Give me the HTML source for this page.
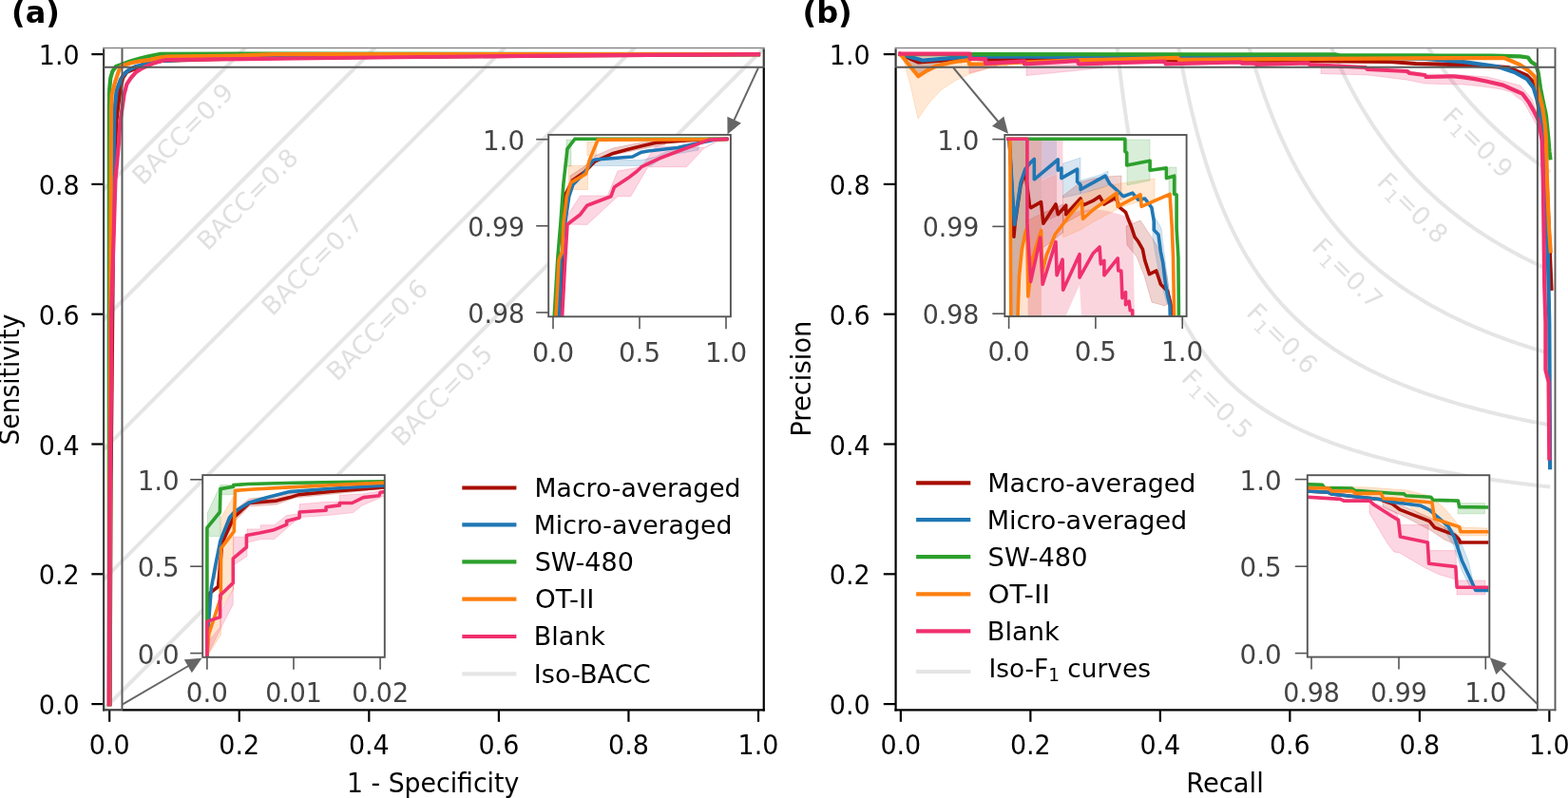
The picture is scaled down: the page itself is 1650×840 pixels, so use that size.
<!DOCTYPE html>
<html><head><meta charset="utf-8"><title>ROC and PR curves</title>
<style>html,body{margin:0;padding:0;background:#fff;overflow:hidden}svg{display:block}text{font-family:"DejaVu Sans","Liberation Sans",sans-serif}</style></head>
<body>
<svg width="1650" height="840" viewBox="0 0 1650 840" font-family="DejaVu Sans, Liberation Sans, sans-serif">
<defs><clipPath id="ca"><rect x="109.14" y="50.6" width="694.61" height="696.7"/></clipPath><clipPath id="cb"><rect x="942.57" y="50.7" width="693.83" height="696.6"/></clipPath><clipPath id="ia1"><rect x="577.2" y="141.9" width="191.7" height="191.4"/></clipPath><clipPath id="ia2"><rect x="213.2" y="500.1" width="191.6" height="191.7"/></clipPath><clipPath id="ib1"><rect x="1057.3" y="142" width="191.3" height="191"/></clipPath><clipPath id="ib2"><rect x="1375.8" y="500.2" width="191.5" height="191.4"/></clipPath></defs>
<rect width="1650" height="840" fill="#fff"/>
<line x1="81.06" y1="227.6" x2="832.14" y2="-524.8" stroke="#e5e5e5" stroke-width="4" clip-path="url(#ca)"/>
<line x1="81.06" y1="364.4" x2="832.14" y2="-388" stroke="#e5e5e5" stroke-width="4" clip-path="url(#ca)"/>
<line x1="81.06" y1="501.2" x2="832.14" y2="-251.2" stroke="#e5e5e5" stroke-width="4" clip-path="url(#ca)"/>
<line x1="81.06" y1="638" x2="832.14" y2="-114.4" stroke="#e5e5e5" stroke-width="4" clip-path="url(#ca)"/>
<line x1="81.06" y1="774.8" x2="832.14" y2="22.4" stroke="#e5e5e5" stroke-width="4" clip-path="url(#ca)"/>
<text transform="translate(150.2 195.9) rotate(-45)" font-size="26.5" fill="#e0e0e0">BACC=0.9</text>
<text transform="translate(218.4 264.7) rotate(-45)" font-size="26.5" fill="#e0e0e0">BACC=0.8</text>
<text transform="translate(286.6 333.5) rotate(-45)" font-size="26.5" fill="#e0e0e0">BACC=0.7</text>
<text transform="translate(354.8 402.3) rotate(-45)" font-size="26.5" fill="#e0e0e0">BACC=0.6</text>
<text transform="translate(423 471.1) rotate(-45)" font-size="26.5" fill="#e0e0e0">BACC=0.5</text>
<polyline points="115.6,741.1 116.6,500 117.6,400 119,250 121,160 122.3,128 123.8,115 126.3,95 129.1,82.1 133.4,75.7 140.6,72.9 150,68 170,64 250,61.5 400,60 600,58.5 798,57.1" fill="none" stroke="#a80d00" stroke-width="4.2" stroke-linejoin="round" stroke-linecap="square" clip-path="url(#ca)"/>
<polyline points="115.5,741.1 116,500 116.5,400 118,250 120.2,130 120.6,115 122.7,95 127,83.6 130.6,77.9 135.6,73.6 142,70.4 147.7,68.9 170,64 250,60 350,59.5 500,58.5 700,57.5 798,57.1" fill="none" stroke="#1f77b4" stroke-width="4.2" stroke-linejoin="round" stroke-linecap="square" clip-path="url(#ca)"/>
<polyline points="114.8,741.1 114.8,300 114.9,115 115.2,94.3 116.3,82.1 118.4,75 122,70 127.7,67.9 137,64.6 146.3,61.8 156.3,59.3 169.1,56.8 300,56.6 798,57.1" fill="none" stroke="#2ca02c" stroke-width="4.2" stroke-linejoin="round" stroke-linecap="square" clip-path="url(#ca)"/>
<polyline points="115.2,741.1 115.6,500 116,400 116.5,230 117,130 117,115 117.7,99.3 121.3,85.7 125.6,72.9 128.4,69.3 137,66.4 147.7,64.3 158.4,62.9 169.1,60.4 176.4,59.5 250,58.5 290,57.2 798,57.1" fill="none" stroke="#ff7f0e" stroke-width="4.2" stroke-linejoin="round" stroke-linecap="square" clip-path="url(#ca)"/>
<polyline points="114.6,741.1 115.5,530 117.1,400 117.1,330 120.2,230 121.4,190 125,150 126.2,130 128.4,115 130.6,99.3 133.4,88.6 137.7,82.1 143.4,75.7 147.7,72.9 152,70.7 162,66.4 169.1,64.3 175,63 350,61 600,58.3 798,57.1" fill="none" stroke="#f0306e" stroke-width="4.2" stroke-linejoin="round" stroke-linecap="square" clip-path="url(#ca)"/>
<polyline points="1174.17,36.08 1177.03,62.57 1179.89,86.56 1182.74,108.38 1185.6,128.31 1188.46,146.59 1191.32,163.42 1194.17,178.96 1197.03,193.35 1199.89,206.72 1202.75,219.18 1205.6,230.8 1208.46,241.68 1211.32,251.89 1214.18,261.47 1217.03,270.5 1219.89,279.01 1222.75,287.05 1225.61,294.66 1228.46,301.87 1231.32,308.71 1234.18,315.21 1237.04,321.39 1239.89,327.28 1242.75,332.9 1245.61,338.26 1248.47,343.39 1251.32,348.29 1254.18,352.99 1257.04,357.49 1259.9,361.8 1262.75,365.95 1265.61,369.93 1268.47,373.76 1271.32,377.44 1274.18,380.99 1277.04,384.41 1279.9,387.71 1282.75,390.9 1285.61,393.97 1288.47,396.94 1291.33,399.81 1294.18,402.59 1297.04,405.28 1299.9,407.88 1302.76,410.4 1305.61,412.84 1308.47,415.21 1311.33,417.51 1314.19,419.75 1317.04,421.91 1319.9,424.02 1322.76,426.06 1325.62,428.05 1328.47,429.99 1331.33,431.87 1334.19,433.71 1337.05,435.49 1339.9,437.23 1342.76,438.92 1345.62,440.57 1348.48,442.18 1351.33,443.75 1354.19,445.29 1357.05,446.78 1359.9,448.24 1362.76,449.67 1365.62,451.06 1368.48,452.42 1371.33,453.75 1374.19,455.05 1377.05,456.32 1379.91,457.56 1382.76,458.78 1385.62,459.97 1388.48,461.13 1391.34,462.27 1394.19,463.39 1397.05,464.48 1399.91,465.55 1402.77,466.6 1405.62,467.63 1408.48,468.64 1411.34,469.63 1414.2,470.6 1417.05,471.55 1419.91,472.48 1422.77,473.4 1425.63,474.29 1428.48,475.18 1431.34,476.04 1434.2,476.89 1437.06,477.72 1439.91,478.54 1442.77,479.35 1445.63,480.14 1448.49,480.92 1451.34,481.68 1454.2,482.43 1457.06,483.17 1459.91,483.89 1462.77,484.61 1465.63,485.31 1468.49,486 1471.34,486.68 1474.2,487.35 1477.06,488 1479.92,488.65 1482.77,489.29 1485.63,489.91 1488.49,490.53 1491.35,491.14 1494.2,491.74 1497.06,492.33 1499.92,492.91 1502.78,493.48 1505.63,494.04 1508.49,494.6 1511.35,495.14 1514.21,495.68 1517.06,496.21 1519.92,496.74 1522.78,497.25 1525.64,497.76 1528.49,498.26 1531.35,498.76 1534.21,499.25 1537.07,499.73 1539.92,500.2 1542.78,500.67 1545.64,501.13 1548.49,501.59 1551.35,502.04 1554.21,502.48 1557.07,502.92 1559.92,503.36 1562.78,503.78 1565.64,504.2 1568.5,504.62 1571.35,505.03 1574.21,505.44 1577.07,505.84 1579.93,506.23 1582.78,506.62 1585.64,507.01 1588.5,507.39 1591.36,507.77 1594.21,508.14 1597.07,508.51 1599.93,508.87 1602.79,509.23 1605.64,509.58 1608.5,509.94 1611.36,510.28 1614.22,510.62 1617.07,510.96 1619.93,511.3 1622.79,511.63 1625.65,511.96 1628.5,512.28 1631.36,512.6" fill="none" stroke="#e5e5e5" stroke-width="4" stroke-linejoin="round" stroke-linecap="butt" clip-path="url(#cb)"/>
<polyline points="1237.75,36.08 1240.21,50.26 1242.67,63.66 1245.13,76.34 1247.59,88.36 1250.05,99.76 1252.51,110.6 1254.97,120.91 1257.43,130.73 1259.89,140.09 1262.35,149.04 1264.81,157.58 1267.27,165.76 1269.73,173.59 1272.19,181.1 1274.65,188.3 1277.11,195.21 1279.57,201.86 1282.03,208.25 1284.49,214.39 1286.95,220.32 1289.41,226.02 1291.87,231.53 1294.33,236.84 1296.79,241.97 1299.25,246.93 1301.71,251.72 1304.17,256.35 1306.63,260.84 1309.09,265.18 1311.55,269.39 1314.02,273.47 1316.48,277.43 1318.94,281.27 1321.4,284.99 1323.86,288.61 1326.32,292.13 1328.78,295.54 1331.24,298.86 1333.7,302.1 1336.16,305.24 1338.62,308.3 1341.08,311.28 1343.54,314.18 1346,317.01 1348.46,319.77 1350.92,322.46 1353.38,325.08 1355.84,327.64 1358.3,330.14 1360.76,332.57 1363.22,334.95 1365.68,337.28 1368.14,339.55 1370.6,341.77 1373.06,343.94 1375.52,346.06 1377.98,348.14 1380.44,350.17 1382.9,352.16 1385.36,354.1 1387.82,356.01 1390.28,357.87 1392.74,359.7 1395.2,361.49 1397.66,363.24 1400.12,364.96 1402.58,366.64 1405.04,368.29 1407.5,369.91 1409.96,371.5 1412.42,373.06 1414.88,374.59 1417.34,376.09 1419.8,377.56 1422.26,379.01 1424.72,380.43 1427.18,381.82 1429.64,383.19 1432.1,384.53 1434.56,385.85 1437.02,387.15 1439.48,388.43 1441.94,389.68 1444.4,390.91 1446.86,392.13 1449.32,393.32 1451.78,394.49 1454.24,395.64 1456.7,396.78 1459.16,397.89 1461.62,398.99 1464.08,400.07 1466.54,401.14 1469,402.18 1471.46,403.21 1473.92,404.23 1476.38,405.23 1478.84,406.21 1481.3,407.18 1483.76,408.14 1486.22,409.08 1488.68,410.01 1491.14,410.92 1493.6,411.82 1496.06,412.71 1498.52,413.59 1500.98,414.45 1503.44,415.3 1505.9,416.14 1508.36,416.96 1510.82,417.78 1513.28,418.58 1515.74,419.38 1518.2,420.16 1520.66,420.93 1523.12,421.7 1525.58,422.45 1528.04,423.19 1530.5,423.92 1532.96,424.65 1535.42,425.36 1537.88,426.06 1540.34,426.76 1542.8,427.45 1545.26,428.12 1547.72,428.79 1550.18,429.45 1552.64,430.11 1555.1,430.75 1557.56,431.39 1560.02,432.02 1562.48,432.64 1564.94,433.26 1567.4,433.86 1569.86,434.46 1572.32,435.06 1574.78,435.64 1577.24,436.22 1579.7,436.79 1582.16,437.36 1584.62,437.92 1587.08,438.47 1589.54,439.02 1592,439.56 1594.46,440.1 1596.92,440.62 1599.38,441.15 1601.84,441.67 1604.3,442.18 1606.76,442.68 1609.22,443.18 1611.68,443.68 1614.14,444.17 1616.6,444.65 1619.06,445.13 1621.52,445.61 1623.98,446.08 1626.44,446.54 1628.9,447 1631.36,447.46" fill="none" stroke="#e5e5e5" stroke-width="4" stroke-linejoin="round" stroke-linecap="butt" clip-path="url(#cb)"/>
<polyline points="1310.69,36.08 1312.69,43.54 1314.69,50.77 1316.7,57.77 1318.7,64.55 1320.71,71.13 1322.71,77.52 1324.71,83.72 1326.72,89.74 1328.72,95.59 1330.73,101.27 1332.73,106.8 1334.74,112.18 1336.74,117.41 1338.74,122.5 1340.75,127.46 1342.75,132.3 1344.76,137 1346.76,141.59 1348.77,146.07 1350.77,150.44 1352.77,154.7 1354.78,158.85 1356.78,162.91 1358.79,166.88 1360.79,170.75 1362.79,174.53 1364.8,178.23 1366.8,181.84 1368.81,185.38 1370.81,188.84 1372.82,192.22 1374.82,195.53 1376.82,198.77 1378.83,201.94 1380.83,205.05 1382.84,208.09 1384.84,211.07 1386.85,213.99 1388.85,216.85 1390.85,219.66 1392.86,222.41 1394.86,225.11 1396.87,227.75 1398.87,230.35 1400.88,232.89 1402.88,235.39 1404.88,237.85 1406.89,240.26 1408.89,242.62 1410.9,244.94 1412.9,247.22 1414.9,249.46 1416.91,251.67 1418.91,253.83 1420.92,255.96 1422.92,258.05 1424.93,260.1 1426.93,262.12 1428.93,264.11 1430.94,266.06 1432.94,267.98 1434.95,269.87 1436.95,271.73 1438.96,273.56 1440.96,275.37 1442.96,277.14 1444.97,278.89 1446.97,280.6 1448.98,282.3 1450.98,283.96 1452.98,285.6 1454.99,287.22 1456.99,288.81 1459,290.38 1461,291.93 1463.01,293.45 1465.01,294.95 1467.01,296.43 1469.02,297.89 1471.02,299.33 1473.03,300.75 1475.03,302.15 1477.04,303.53 1479.04,304.89 1481.04,306.23 1483.05,307.55 1485.05,308.86 1487.06,310.15 1489.06,311.42 1491.06,312.67 1493.07,313.91 1495.07,315.13 1497.08,316.33 1499.08,317.52 1501.09,318.7 1503.09,319.86 1505.09,321 1507.1,322.14 1509.1,323.25 1511.11,324.36 1513.11,325.44 1515.12,326.52 1517.12,327.58 1519.12,328.63 1521.13,329.67 1523.13,330.7 1525.14,331.71 1527.14,332.71 1529.14,333.7 1531.15,334.68 1533.15,335.64 1535.16,336.6 1537.16,337.54 1539.17,338.47 1541.17,339.4 1543.17,340.31 1545.18,341.21 1547.18,342.1 1549.19,342.99 1551.19,343.86 1553.2,344.72 1555.2,345.58 1557.2,346.42 1559.21,347.25 1561.21,348.08 1563.22,348.9 1565.22,349.71 1567.23,350.51 1569.23,351.3 1571.23,352.08 1573.24,352.86 1575.24,353.62 1577.25,354.38 1579.25,355.14 1581.25,355.88 1583.26,356.62 1585.26,357.34 1587.27,358.07 1589.27,358.78 1591.28,359.49 1593.28,360.19 1595.28,360.88 1597.29,361.57 1599.29,362.25 1601.3,362.92 1603.3,363.59 1605.31,364.25 1607.31,364.9 1609.31,365.55 1611.32,366.19 1613.32,366.83 1615.33,367.46 1617.33,368.08 1619.33,368.7 1621.34,369.31 1623.34,369.92 1625.35,370.52 1627.35,371.12 1629.36,371.71 1631.36,372.29" fill="none" stroke="#e5e5e5" stroke-width="4" stroke-linejoin="round" stroke-linecap="butt" clip-path="url(#cb)"/>
<polyline points="1395.19,36.08 1396.67,39.72 1398.15,43.3 1399.62,46.81 1401.1,50.27 1402.57,53.68 1404.05,57.03 1405.53,60.32 1407,63.56 1408.48,66.76 1409.95,69.9 1411.43,72.99 1412.91,76.03 1414.38,79.03 1415.86,81.98 1417.33,84.89 1418.81,87.75 1420.29,90.57 1421.76,93.35 1423.24,96.09 1424.71,98.79 1426.19,101.45 1427.67,104.07 1429.14,106.66 1430.62,109.2 1432.09,111.72 1433.57,114.19 1435.05,116.64 1436.52,119.05 1438,121.42 1439.47,123.77 1440.95,126.08 1442.43,128.36 1443.9,130.61 1445.38,132.83 1446.85,135.02 1448.33,137.19 1449.81,139.32 1451.28,141.43 1452.76,143.51 1454.24,145.57 1455.71,147.6 1457.19,149.6 1458.66,151.58 1460.14,153.53 1461.62,155.46 1463.09,157.37 1464.57,159.25 1466.04,161.11 1467.52,162.95 1469,164.77 1470.47,166.56 1471.95,168.33 1473.42,170.09 1474.9,171.82 1476.38,173.53 1477.85,175.22 1479.33,176.89 1480.8,178.55 1482.28,180.18 1483.76,181.8 1485.23,183.4 1486.71,184.98 1488.18,186.54 1489.66,188.09 1491.14,189.62 1492.61,191.13 1494.09,192.62 1495.56,194.1 1497.04,195.57 1498.52,197.02 1499.99,198.45 1501.47,199.87 1502.94,201.27 1504.42,202.66 1505.9,204.03 1507.37,205.39 1508.85,206.74 1510.32,208.07 1511.8,209.39 1513.28,210.69 1514.75,211.98 1516.23,213.26 1517.7,214.53 1519.18,215.78 1520.66,217.02 1522.13,218.25 1523.61,219.47 1525.09,220.67 1526.56,221.87 1528.04,223.05 1529.51,224.22 1530.99,225.38 1532.47,226.52 1533.94,227.66 1535.42,228.79 1536.89,229.91 1538.37,231.01 1539.85,232.11 1541.32,233.19 1542.8,234.27 1544.27,235.33 1545.75,236.39 1547.23,237.43 1548.7,238.47 1550.18,239.5 1551.65,240.52 1553.13,241.53 1554.61,242.53 1556.08,243.52 1557.56,244.5 1559.03,245.47 1560.51,246.44 1561.99,247.4 1563.46,248.35 1564.94,249.29 1566.41,250.22 1567.89,251.14 1569.37,252.06 1570.84,252.97 1572.32,253.87 1573.79,254.76 1575.27,255.65 1576.75,256.53 1578.22,257.4 1579.7,258.27 1581.17,259.12 1582.65,259.97 1584.13,260.82 1585.6,261.65 1587.08,262.48 1588.55,263.31 1590.03,264.12 1591.51,264.93 1592.98,265.74 1594.46,266.54 1595.93,267.33 1597.41,268.11 1598.89,268.89 1600.36,269.66 1601.84,270.43 1603.32,271.19 1604.79,271.94 1606.27,272.69 1607.74,273.44 1609.22,274.17 1610.7,274.91 1612.17,275.63 1613.65,276.35 1615.12,277.07 1616.6,277.78 1618.08,278.48 1619.55,279.18 1621.03,279.88 1622.5,280.57 1623.98,281.25 1625.46,281.93 1626.93,282.61 1628.41,283.28 1629.88,283.94 1631.36,284.6" fill="none" stroke="#e5e5e5" stroke-width="4" stroke-linejoin="round" stroke-linecap="butt" clip-path="url(#cb)"/>
<polyline points="1494.27,36.08 1495.13,37.5 1495.99,38.91 1496.84,40.31 1497.7,41.71 1498.56,43.09 1499.41,44.46 1500.27,45.82 1501.13,47.17 1501.98,48.52 1502.84,49.85 1503.7,51.17 1504.55,52.49 1505.41,53.8 1506.27,55.09 1507.12,56.38 1507.98,57.66 1508.84,58.93 1509.69,60.2 1510.55,61.45 1511.41,62.7 1512.26,63.93 1513.12,65.16 1513.98,66.38 1514.83,67.6 1515.69,68.8 1516.55,70 1517.41,71.19 1518.26,72.37 1519.12,73.54 1519.98,74.71 1520.83,75.87 1521.69,77.02 1522.55,78.16 1523.4,79.3 1524.26,80.43 1525.12,81.55 1525.97,82.66 1526.83,83.77 1527.69,84.87 1528.54,85.96 1529.4,87.05 1530.26,88.13 1531.11,89.2 1531.97,90.27 1532.83,91.33 1533.68,92.39 1534.54,93.43 1535.4,94.47 1536.25,95.51 1537.11,96.54 1537.97,97.56 1538.83,98.57 1539.68,99.58 1540.54,100.59 1541.4,101.58 1542.25,102.57 1543.11,103.56 1543.97,104.54 1544.82,105.51 1545.68,106.48 1546.54,107.44 1547.39,108.4 1548.25,109.35 1549.11,110.3 1549.96,111.24 1550.82,112.17 1551.68,113.1 1552.53,114.02 1553.39,114.94 1554.25,115.85 1555.1,116.76 1555.96,117.66 1556.82,118.56 1557.68,119.45 1558.53,120.34 1559.39,121.22 1560.25,122.1 1561.1,122.97 1561.96,123.84 1562.82,124.7 1563.67,125.56 1564.53,126.42 1565.39,127.26 1566.24,128.11 1567.1,128.95 1567.96,129.78 1568.81,130.61 1569.67,131.44 1570.53,132.26 1571.38,133.07 1572.24,133.89 1573.1,134.69 1573.95,135.5 1574.81,136.3 1575.67,137.09 1576.52,137.88 1577.38,138.67 1578.24,139.45 1579.1,140.23 1579.95,141 1580.81,141.77 1581.67,142.54 1582.52,143.3 1583.38,144.06 1584.24,144.81 1585.09,145.56 1585.95,146.31 1586.81,147.05 1587.66,147.79 1588.52,148.52 1589.38,149.25 1590.23,149.98 1591.09,150.7 1591.95,151.42 1592.8,152.14 1593.66,152.85 1594.52,153.56 1595.37,154.26 1596.23,154.96 1597.09,155.66 1597.94,156.35 1598.8,157.05 1599.66,157.73 1600.52,158.42 1601.37,159.1 1602.23,159.78 1603.09,160.45 1603.94,161.12 1604.8,161.79 1605.66,162.45 1606.51,163.11 1607.37,163.77 1608.23,164.42 1609.08,165.08 1609.94,165.72 1610.8,166.37 1611.65,167.01 1612.51,167.65 1613.37,168.28 1614.22,168.92 1615.08,169.55 1615.94,170.17 1616.79,170.8 1617.65,171.42 1618.51,172.04 1619.36,172.65 1620.22,173.26 1621.08,173.87 1621.94,174.48 1622.79,175.08 1623.65,175.68 1624.51,176.28 1625.36,176.87 1626.22,177.47 1627.08,178.06 1627.93,178.64 1628.79,179.23 1629.65,179.81 1630.5,180.39 1631.36,180.96" fill="none" stroke="#e5e5e5" stroke-width="4" stroke-linejoin="round" stroke-linecap="butt" clip-path="url(#cb)"/>
<text transform="translate(1516.4 124.2) rotate(45)" font-size="26.5" fill="#e0e0e0">F<tspan font-size="18.5" dy="4.6">1</tspan><tspan dy="-4.6">=0.9</tspan></text>
<text transform="translate(1447.8 193) rotate(45)" font-size="26.5" fill="#e0e0e0">F<tspan font-size="18.5" dy="4.6">1</tspan><tspan dy="-4.6">=0.8</tspan></text>
<text transform="translate(1379.2 261.8) rotate(45)" font-size="26.5" fill="#e0e0e0">F<tspan font-size="18.5" dy="4.6">1</tspan><tspan dy="-4.6">=0.7</tspan></text>
<text transform="translate(1310.6 330.6) rotate(45)" font-size="26.5" fill="#e0e0e0">F<tspan font-size="18.5" dy="4.6">1</tspan><tspan dy="-4.6">=0.6</tspan></text>
<text transform="translate(1242 399.4) rotate(45)" font-size="26.5" fill="#e0e0e0">F<tspan font-size="18.5" dy="4.6">1</tspan><tspan dy="-4.6">=0.5</tspan></text>
<polygon points="950,60 958,90 966,125 978,108 990,95 1005,85 1020,78 1040,72 1060,70 1060,62 1020,60 990,62 966,66 950,58" fill="#ff7f0e" fill-opacity="0.18" stroke="#ff7f0e" stroke-opacity="0.18" stroke-width="1" clip-path="url(#cb)"/>
<polygon points="1020,69 1050,69 1020,77" fill="#f0306e" fill-opacity="0.2" stroke="#f0306e" stroke-opacity="0.2" stroke-width="1" clip-path="url(#cb)"/>
<polygon points="1080,68 1160,68 1160,71.5 1080,79.5" fill="#f0306e" fill-opacity="0.2" stroke="#f0306e" stroke-opacity="0.2" stroke-width="1" clip-path="url(#cb)"/>
<polygon points="955,60 966.3,66 980,64 1000,62 1019,61 1019,63.5 1000,66 985,69.5 975,74.5 966.3,79 958,68" fill="#d8b4a4" clip-path="url(#cb)"/>
<polygon points="952,58.6 970.7,61.6 990,60 1019,58.6" fill="#e8cbbd" clip-path="url(#cb)"/>
<polygon points="1390,71.5 1440,72.5 1480,74 1500,78 1540,79 1565,81 1585,86 1600,90 1605,96 1612,104 1616,115 1620,125 1622,140 1616,130 1611,121 1606,112 1602,106 1596,102 1590,97 1580,94 1560,91 1540,89 1500,88 1480,84 1440,79 1390,77.5" fill="#f0306e" fill-opacity="0.2" stroke="#f0306e" stroke-opacity="0.2" stroke-width="1" clip-path="url(#cb)"/>
<polyline points="947.5,57.1 966.3,65.3 1020,61.5 1040,62.6 1130,62.8 1300,63.3 1410,64.3 1463,65 1490,67 1540,68.2 1587.6,71.2 1606.7,79.5 1613.8,86.7 1618,95 1621,110 1624,140 1628,200 1631,270 1632.5,303.8" fill="none" stroke="#a80d00" stroke-width="4.2" stroke-linejoin="round" stroke-linecap="square" clip-path="url(#cb)"/>
<polyline points="947.5,57.1 970.7,63.6 1020,59.5 1140,60 1330,60 1379,59.4 1500,62 1530,64.5 1540,65.2 1575.7,70 1593.6,76 1606.7,83.1 1613.8,92.6 1617.4,104.5 1619.8,116.4 1622.1,130.7 1623.3,145 1625.5,200 1628.8,266 1630.3,340 1631.1,492.1" fill="none" stroke="#1f77b4" stroke-width="4.2" stroke-linejoin="round" stroke-linecap="square" clip-path="url(#cb)"/>
<polyline points="947.5,57.1 1330,57.3 1404.7,57.3 1410,58.3 1503.3,58.3 1507.3,58.7 1570,58.7 1599.5,59.3 1607.9,60.5 1611.4,65.2 1616.2,68.2 1618.6,76 1621,92.6 1623.3,104.5 1626.9,121.2 1629.3,145 1630.5,160 1631.3,166.3" fill="none" stroke="#2ca02c" stroke-width="4.2" stroke-linejoin="round" stroke-linecap="square" clip-path="url(#cb)"/>
<polyline points="947.5,57.1 966.3,80.3 975,74.5 985,69.5 1000,66 1010,64.3 1019.5,63.2 1020,67.5 1034.5,67.4 1140,63 1160.5,62.8 1239.5,60.9 1240.7,62.8 1340,62.2 1540,61.1 1582.9,61.1 1590,64 1599.5,68.2 1609,74.8 1615,80.7 1618.6,95 1621,104.5 1623.3,114 1625.7,130.7 1626.9,145 1628,190 1630,240 1631.7,264.3" fill="none" stroke="#ff7f0e" stroke-width="4.2" stroke-linejoin="round" stroke-linecap="square" clip-path="url(#cb)"/>
<polyline points="947.3,56.6 1020.6,56.6 1020.6,62 1037,62 1037,66.8 1078,64.4 1078,67.4 1133.8,64.1 1135.1,67.3 1159.3,66.6 1225.5,64.7 1226.7,67.3 1305.6,65.4 1306.9,66.6 1320.9,66.6 1322.2,67.9 1376.7,66.3 1378,68 1436.7,71 1439.3,73 1480.7,75 1483.3,77 1499.3,79 1500.7,81 1530,80.3 1540,81.3 1551.9,83.1 1563.8,85.5 1581.7,89.6 1593.6,95 1601.9,98.6 1609,108.1 1613.8,116.4 1618.6,126 1620.5,135 1622.6,147.6 1623.8,190 1624.6,250 1625.2,300 1626.4,340 1626.4,389.3 1629.6,402 1630.3,482.5" fill="none" stroke="#f0306e" stroke-width="4.2" stroke-linejoin="round" stroke-linecap="square" clip-path="url(#cb)"/>
<line x1="115.2" y1="747.3" x2="115.2" y2="759.8" stroke="#000" stroke-width="2.2"/>
<text x="115.2" y="793.8" font-size="27.78" text-anchor="middle" textLength="42.85" lengthAdjust="spacingAndGlyphs">0.0</text>
<line x1="251.76" y1="747.3" x2="251.76" y2="759.8" stroke="#000" stroke-width="2.2"/>
<text x="251.76" y="793.8" font-size="27.78" text-anchor="middle" textLength="42.85" lengthAdjust="spacingAndGlyphs">0.2</text>
<line x1="388.32" y1="747.3" x2="388.32" y2="759.8" stroke="#000" stroke-width="2.2"/>
<text x="388.32" y="793.8" font-size="27.78" text-anchor="middle" textLength="42.85" lengthAdjust="spacingAndGlyphs">0.4</text>
<line x1="524.88" y1="747.3" x2="524.88" y2="759.8" stroke="#000" stroke-width="2.2"/>
<text x="524.88" y="793.8" font-size="27.78" text-anchor="middle" textLength="42.85" lengthAdjust="spacingAndGlyphs">0.6</text>
<line x1="661.44" y1="747.3" x2="661.44" y2="759.8" stroke="#000" stroke-width="2.2"/>
<text x="661.44" y="793.8" font-size="27.78" text-anchor="middle" textLength="42.85" lengthAdjust="spacingAndGlyphs">0.8</text>
<line x1="798" y1="747.3" x2="798" y2="759.8" stroke="#000" stroke-width="2.2"/>
<text x="798" y="793.8" font-size="27.78" text-anchor="middle" textLength="42.85" lengthAdjust="spacingAndGlyphs">1.0</text>
<line x1="96.34" y1="741.1" x2="109.14" y2="741.1" stroke="#000" stroke-width="2.2"/>
<text x="83.64" y="752.1" font-size="27.78" text-anchor="end" textLength="42.85" lengthAdjust="spacingAndGlyphs">0.0</text>
<line x1="96.34" y1="604.3" x2="109.14" y2="604.3" stroke="#000" stroke-width="2.2"/>
<text x="83.64" y="615.3" font-size="27.78" text-anchor="end" textLength="42.85" lengthAdjust="spacingAndGlyphs">0.2</text>
<line x1="96.34" y1="467.5" x2="109.14" y2="467.5" stroke="#000" stroke-width="2.2"/>
<text x="83.64" y="478.5" font-size="27.78" text-anchor="end" textLength="42.85" lengthAdjust="spacingAndGlyphs">0.4</text>
<line x1="96.34" y1="330.7" x2="109.14" y2="330.7" stroke="#000" stroke-width="2.2"/>
<text x="83.64" y="341.7" font-size="27.78" text-anchor="end" textLength="42.85" lengthAdjust="spacingAndGlyphs">0.6</text>
<line x1="96.34" y1="193.9" x2="109.14" y2="193.9" stroke="#000" stroke-width="2.2"/>
<text x="83.64" y="204.9" font-size="27.78" text-anchor="end" textLength="42.85" lengthAdjust="spacingAndGlyphs">0.8</text>
<line x1="96.34" y1="57.1" x2="109.14" y2="57.1" stroke="#000" stroke-width="2.2"/>
<text x="83.64" y="68.1" font-size="27.78" text-anchor="end" textLength="42.85" lengthAdjust="spacingAndGlyphs">1.0</text>
<line x1="947.86" y1="747.3" x2="947.86" y2="759.8" stroke="#000" stroke-width="2.2"/>
<text x="947.86" y="793.8" font-size="27.78" text-anchor="middle" textLength="42.85" lengthAdjust="spacingAndGlyphs">0.0</text>
<line x1="1084.36" y1="747.3" x2="1084.36" y2="759.8" stroke="#000" stroke-width="2.2"/>
<text x="1084.36" y="793.8" font-size="27.78" text-anchor="middle" textLength="42.85" lengthAdjust="spacingAndGlyphs">0.2</text>
<line x1="1220.86" y1="747.3" x2="1220.86" y2="759.8" stroke="#000" stroke-width="2.2"/>
<text x="1220.86" y="793.8" font-size="27.78" text-anchor="middle" textLength="42.85" lengthAdjust="spacingAndGlyphs">0.4</text>
<line x1="1357.36" y1="747.3" x2="1357.36" y2="759.8" stroke="#000" stroke-width="2.2"/>
<text x="1357.36" y="793.8" font-size="27.78" text-anchor="middle" textLength="42.85" lengthAdjust="spacingAndGlyphs">0.6</text>
<line x1="1493.86" y1="747.3" x2="1493.86" y2="759.8" stroke="#000" stroke-width="2.2"/>
<text x="1493.86" y="793.8" font-size="27.78" text-anchor="middle" textLength="42.85" lengthAdjust="spacingAndGlyphs">0.8</text>
<line x1="1630.36" y1="747.3" x2="1630.36" y2="759.8" stroke="#000" stroke-width="2.2"/>
<text x="1630.36" y="793.8" font-size="27.78" text-anchor="middle" textLength="42.85" lengthAdjust="spacingAndGlyphs">1.0</text>
<line x1="929.77" y1="741.1" x2="942.57" y2="741.1" stroke="#000" stroke-width="2.2"/>
<text x="915.67" y="752.1" font-size="27.78" text-anchor="end" textLength="42.85" lengthAdjust="spacingAndGlyphs">0.0</text>
<line x1="929.77" y1="604.3" x2="942.57" y2="604.3" stroke="#000" stroke-width="2.2"/>
<text x="915.67" y="615.3" font-size="27.78" text-anchor="end" textLength="42.85" lengthAdjust="spacingAndGlyphs">0.2</text>
<line x1="929.77" y1="467.5" x2="942.57" y2="467.5" stroke="#000" stroke-width="2.2"/>
<text x="915.67" y="478.5" font-size="27.78" text-anchor="end" textLength="42.85" lengthAdjust="spacingAndGlyphs">0.4</text>
<line x1="929.77" y1="330.7" x2="942.57" y2="330.7" stroke="#000" stroke-width="2.2"/>
<text x="915.67" y="341.7" font-size="27.78" text-anchor="end" textLength="42.85" lengthAdjust="spacingAndGlyphs">0.6</text>
<line x1="929.77" y1="193.9" x2="942.57" y2="193.9" stroke="#000" stroke-width="2.2"/>
<text x="915.67" y="204.9" font-size="27.78" text-anchor="end" textLength="42.85" lengthAdjust="spacingAndGlyphs">0.8</text>
<line x1="929.77" y1="57.1" x2="942.57" y2="57.1" stroke="#000" stroke-width="2.2"/>
<text x="915.67" y="68.1" font-size="27.78" text-anchor="end" textLength="42.85" lengthAdjust="spacingAndGlyphs">1.0</text>
<line x1="109.14" y1="51.3" x2="109.14" y2="748.4" stroke="#3a3a3a" stroke-width="2.2"/>
<line x1="108.04" y1="747.3" x2="128.5" y2="747.3" stroke="#3a3a3a" stroke-width="2.2"/>
<line x1="128.5" y1="747.3" x2="804.85" y2="747.3" stroke="#000" stroke-width="2.2"/>
<line x1="803.75" y1="70.7" x2="803.75" y2="748.4" stroke="#000" stroke-width="2.2"/>
<line x1="803.75" y1="51.3" x2="803.75" y2="70.7" stroke="#3a3a3a" stroke-width="2.2"/>
<line x1="109.14" y1="70.7" x2="803.75" y2="70.7" stroke="#5a5a5a" stroke-width="2"/>
<line x1="128.5" y1="50.5" x2="128.5" y2="747.3" stroke="#5a5a5a" stroke-width="2"/>
<line x1="108.04" y1="50.5" x2="804.85" y2="50.5" stroke="#888" stroke-width="1.6"/>
<line x1="942.57" y1="70.7" x2="942.57" y2="748.4" stroke="#000" stroke-width="2.2"/>
<line x1="942.57" y1="51.3" x2="942.57" y2="70.7" stroke="#3a3a3a" stroke-width="2.2"/>
<line x1="941.47" y1="747.3" x2="1617.9" y2="747.3" stroke="#000" stroke-width="2.2"/>
<line x1="1617.9" y1="747.3" x2="1637.3" y2="747.3" stroke="#5a5a5a" stroke-width="1.9"/>
<line x1="1636.5" y1="50.5" x2="1636.5" y2="748.2" stroke="#5a5a5a" stroke-width="1.9"/>
<line x1="942.57" y1="70.7" x2="1636.4" y2="70.7" stroke="#5a5a5a" stroke-width="2"/>
<line x1="1617.9" y1="50.5" x2="1617.9" y2="747.3" stroke="#5a5a5a" stroke-width="2"/>
<line x1="941.47" y1="50.5" x2="1637.5" y2="50.5" stroke="#888" stroke-width="1.6"/>
<rect x="577.2" y="141.9" width="191.7" height="191.4" fill="#fff"/>
<polygon points="596,147 601,147 601,175 596,175" fill="#2ca02c" fill-opacity="0.2" stroke="#2ca02c" stroke-opacity="0.2" stroke-width="1" clip-path="url(#ia1)"/>
<polygon points="598.2,174.5 618.5,174.5 618.5,199.5 598.2,199.5" fill="#ff7f0e" fill-opacity="0.2" stroke="#ff7f0e" stroke-opacity="0.2" stroke-width="1" clip-path="url(#ia1)"/>
<polygon points="617.9,149.5 627.4,149.5 627.4,163.8 617.9,163.8" fill="#ff7f0e" fill-opacity="0.2" stroke="#ff7f0e" stroke-opacity="0.2" stroke-width="1" clip-path="url(#ia1)"/>
<polygon points="600,185 614,176 626,164 645,156 675,150 700,148 700,152 675,157 645,163 626,171 614,186 600,195" fill="#a80d00" fill-opacity="0.2" stroke="#a80d00" stroke-opacity="0.2" stroke-width="1" clip-path="url(#ia1)"/>
<polygon points="625,168.6 675,168.6 690,165 700,160 735,152 735,158 700,164 685,174.5 625,174.5" fill="#1f77b4" fill-opacity="0.2" stroke="#1f77b4" stroke-opacity="0.2" stroke-width="1" clip-path="url(#ia1)"/>
<polygon points="591,236 610.7,206 639.3,206 650,180 675,175.7 690.2,153.7 741.4,155.5 760,146 741.4,155.5 722.4,175.7 681.9,175.7 663.7,206.7 650,206.7 617.9,236.4" fill="#f0306e" fill-opacity="0.2" stroke="#f0306e" stroke-opacity="0.2" stroke-width="1" clip-path="url(#ia1)"/>
<polyline points="591,340 592,240 594,206.7 602.4,190 614.3,181.7 626.2,169.8 645.2,161.4 660.7,157.3 675,153.7 691.4,150.1 717.6,148.3 746.2,146.5 764,146.5" fill="none" stroke="#a80d00" stroke-width="3.6" stroke-linejoin="round" stroke-linecap="square" clip-path="url(#ia1)"/>
<polyline points="588,340 588.1,331.4 590.5,274.3 594.6,235.2 598.8,206.7 603,194.2 614.3,182.9 623.8,169.2 626.2,168 665.5,165 675,160.2 681.9,159 712.9,155.5 731.9,151.3 753.3,147.1 764,146.5" fill="none" stroke="#1f77b4" stroke-width="3.6" stroke-linejoin="round" stroke-linecap="square" clip-path="url(#ia1)"/>
<polyline points="583,340 583.3,331.4 586.9,270.7 589.9,235 592.9,193.6 597,156.7 604.8,146.3 764,146.3" fill="none" stroke="#2ca02c" stroke-width="3.6" stroke-linejoin="round" stroke-linecap="square" clip-path="url(#ia1)"/>
<polyline points="585,340 585.1,331.4 588.1,273.1 591.7,264.8 592.9,235 596.4,206.7 600.6,192.4 616.7,182.9 620.2,168.6 629.2,147.1 764,146.8" fill="none" stroke="#ff7f0e" stroke-width="3.6" stroke-linejoin="round" stroke-linecap="square" clip-path="url(#ia1)"/>
<polyline points="591.5,340 591.7,331.4 594.6,276.7 597,236.2 610.7,225.7 617.9,216.2 642.9,206.7 646.4,197.1 660.7,187.6 670,180.5 675,175.7 693.8,166.8 714,159 746.2,147.1 765.2,146.3" fill="none" stroke="#f0306e" stroke-width="3.6" stroke-linejoin="round" stroke-linecap="square" clip-path="url(#ia1)"/>
<rect x="577.2" y="141.9" width="191.7" height="191.4" fill="none" stroke="#555555" stroke-width="1.9"/>
<line x1="582" y1="333.3" x2="582" y2="346.3" stroke="#555555" stroke-width="1.6"/>
<text x="582" y="380.6" font-size="27.78" text-anchor="middle" fill="#444444">0.0</text>
<line x1="673" y1="333.3" x2="673" y2="346.3" stroke="#555555" stroke-width="1.6"/>
<text x="673" y="380.6" font-size="27.78" text-anchor="middle" fill="#444444">0.5</text>
<line x1="764" y1="333.3" x2="764" y2="346.3" stroke="#555555" stroke-width="1.6"/>
<text x="764" y="380.6" font-size="27.78" text-anchor="middle" fill="#444444">1.0</text>
<line x1="564.2" y1="146.7" x2="577.2" y2="146.7" stroke="#555555" stroke-width="1.6"/>
<text x="552.1" y="157.7" font-size="27.78" text-anchor="end" fill="#444444">1.0</text>
<line x1="564.2" y1="237.8" x2="577.2" y2="237.8" stroke="#555555" stroke-width="1.6"/>
<text x="552.1" y="248.8" font-size="27.78" text-anchor="end" fill="#444444" textLength="59.75" lengthAdjust="spacingAndGlyphs">0.99</text>
<line x1="564.2" y1="328.95" x2="577.2" y2="328.95" stroke="#555555" stroke-width="1.6"/>
<text x="552.1" y="339.95" font-size="27.78" text-anchor="end" fill="#444444" textLength="59.75" lengthAdjust="spacingAndGlyphs">0.98</text>
<rect x="213.2" y="500.1" width="191.6" height="191.7" fill="#fff"/>
<polygon points="218.3,540 232,510.5 245.7,510.5 245.7,520.6 232,520.6 232,564.6 220.7,564.6 218.3,554.5" fill="#2ca02c" fill-opacity="0.2" stroke="#2ca02c" stroke-opacity="0.2" stroke-width="1" clip-path="url(#ia2)"/>
<polygon points="232.6,545 245.7,522.4 245.7,595 245.7,620 232.6,640 220,667 219,689 232.6,668 232.6,600" fill="#ff7f0e" fill-opacity="0.2" stroke="#ff7f0e" stroke-opacity="0.2" stroke-width="1" clip-path="url(#ia2)"/>
<polygon points="226,600 233.8,565 245.7,538 262.4,525 291,522 310,518 340,514 380,511 405,509 405,514 380,517 340,521 310,524 291,531 262.4,533 245.7,550 233.8,575 226,610" fill="#a80d00" fill-opacity="0.2" stroke="#a80d00" stroke-opacity="0.2" stroke-width="1" clip-path="url(#ia2)"/>
<polygon points="245.7,565.2 260,565.2 260,556.9 274.3,556.9 274.3,552.7 288.6,552.7 301.7,542.6 315.1,540.7 315.1,530.7 343.1,528.3 357.4,528.3 357.4,521.2 381.2,520 405,516 405,522 381.2,532 371.7,539.6 344.3,542.6 315.7,544.4 305,553.3 288.6,567.6 274.3,567.6 260,571.2 260,585.5 245.7,595 245.7,620 231.6,645 231.6,660 219,676 219,689 232,662 245.3,636 245.3,600" fill="#f0306e" fill-opacity="0.2" stroke="#f0306e" stroke-opacity="0.2" stroke-width="1" clip-path="url(#ia2)"/>
<polyline points="217.9,690 218.5,660 220.5,624.7 229.6,617.5 233.8,571.2 245.7,545 262.4,529.5 291,527.1 305,523.6 314.5,520.6 352.6,517 382.4,514.6 405,512.9" fill="none" stroke="#a80d00" stroke-width="3.6" stroke-linejoin="round" stroke-linecap="square" clip-path="url(#ia2)"/>
<polyline points="217.9,690 219.8,651.5 222.4,618.8 226.7,595 232,568.8 241.5,545 246.9,538.5 262.4,528.9 281.4,523.6 305,517.6 352.6,514 405,511" fill="none" stroke="#1f77b4" stroke-width="3.6" stroke-linejoin="round" stroke-linecap="square" clip-path="url(#ia2)"/>
<polyline points="217.9,690 217.9,555.7 231.4,539 232,514.6 245.7,512.3 245.7,510.5 261.2,509.5 310,508.3 405,506.9" fill="none" stroke="#2ca02c" stroke-width="3.6" stroke-linejoin="round" stroke-linecap="square" clip-path="url(#ia2)"/>
<polyline points="217.9,690 219.8,667.2 232.3,629.3 232.6,577.1 246.3,559.3 247.5,516.4 262.4,515.2 305,512.9 352.6,510.5 405,508.1" fill="none" stroke="#ff7f0e" stroke-width="3.6" stroke-linejoin="round" stroke-linecap="square" clip-path="url(#ia2)"/>
<polyline points="217.9,689.5 217.9,654.1 231.6,649.6 231.6,626.7 245.3,613.6 245.3,587.9 259.4,576 259.4,563.5 273.1,561.1 287.4,558.1 301.7,552.1 301.7,548.6 315.1,545 315.1,539 343.1,537.3 343.1,533.7 357.4,531.9 357.4,529.5 370.5,529.5 382.4,523.6 399,521.8 400.2,518.2 405,517.6" fill="none" stroke="#f0306e" stroke-width="3.6" stroke-linejoin="round" stroke-linecap="square" clip-path="url(#ia2)"/>
<rect x="213.2" y="500.1" width="191.6" height="191.7" fill="none" stroke="#555555" stroke-width="1.9"/>
<line x1="217.9" y1="691.8" x2="217.9" y2="704.8" stroke="#555555" stroke-width="1.6"/>
<text x="217.9" y="739.1" font-size="27.78" text-anchor="middle" fill="#444444">0.0</text>
<line x1="309" y1="691.8" x2="309" y2="704.8" stroke="#555555" stroke-width="1.6"/>
<text x="309" y="739.1" font-size="27.78" text-anchor="middle" fill="#444444" textLength="59.75" lengthAdjust="spacingAndGlyphs">0.01</text>
<line x1="400.1" y1="691.8" x2="400.1" y2="704.8" stroke="#555555" stroke-width="1.6"/>
<text x="400.1" y="739.1" font-size="27.78" text-anchor="middle" fill="#444444" textLength="59.75" lengthAdjust="spacingAndGlyphs">0.02</text>
<line x1="200.2" y1="504.8" x2="213.2" y2="504.8" stroke="#555555" stroke-width="1.6"/>
<text x="188.8" y="515.8" font-size="27.78" text-anchor="end" fill="#444444">1.0</text>
<line x1="200.2" y1="596.2" x2="213.2" y2="596.2" stroke="#555555" stroke-width="1.6"/>
<text x="188.8" y="607.2" font-size="27.78" text-anchor="end" fill="#444444">0.5</text>
<line x1="200.2" y1="687.6" x2="213.2" y2="687.6" stroke="#555555" stroke-width="1.6"/>
<text x="188.8" y="698.6" font-size="27.78" text-anchor="end" fill="#444444">0.0</text>
<rect x="1057.3" y="142" width="191.3" height="191" fill="#fff"/>
<polygon points="1063.6,146 1080.3,146 1080.3,239 1079,244.6 1075.3,263 1072.5,290.8 1071,334 1063.6,334" fill="#cfb0a2" clip-path="url(#ib1)"/>
<polygon points="1071,334 1072.5,290.8 1075.3,263 1079,244.6 1080.3,239 1081.5,239 1081.5,334" fill="#fde3d0" clip-path="url(#ib1)"/>
<polygon points="1081.5,146 1096,146 1096,225 1081.5,232" fill="#e0b0b2" clip-path="url(#ib1)"/>
<polygon points="1081.5,232 1096,225 1096,334 1081.5,334" fill="#f4b8b2" clip-path="url(#ib1)"/>
<polygon points="1096,146 1112.6,146 1112.6,183 1104,186 1096,190" fill="#d7c1d7" clip-path="url(#ib1)"/>
<polygon points="1096,190 1104,186 1112.6,183 1112.6,228 1104,232 1096,236" fill="#ecb4bc" clip-path="url(#ib1)"/>
<polygon points="1112.6,146 1118.5,146 1118.5,228 1112.6,228" fill="#fbd5de" clip-path="url(#ib1)"/>
<polygon points="1096,236 1104,232 1112.6,228 1118.5,226 1135,222 1150,220 1165,222 1180,226 1192,232 1194,334 1138,334 1136,300 1121,334 1096,334" fill="#fbd5de" clip-path="url(#ib1)"/>
<polygon points="1118.6,172 1128,169 1137,166 1137,204 1128,206 1118.6,208" fill="#1f77b4" fill-opacity="0.18" stroke="#1f77b4" stroke-opacity="0.18" stroke-width="1" clip-path="url(#ib1)"/>
<polygon points="1137,190 1158,184 1166,180 1166,195 1158,198 1137,204" fill="#1f77b4" fill-opacity="0.18" stroke="#1f77b4" stroke-opacity="0.18" stroke-width="1" clip-path="url(#ib1)"/>
<polygon points="1137,192 1150,188 1165,186 1180,185 1180,210 1165,214 1150,220 1137,226 1118.6,236 1118.6,206" fill="#a80d00" fill-opacity="0.18" stroke="#a80d00" stroke-opacity="0.18" stroke-width="1" clip-path="url(#ib1)"/>
<polygon points="1137,206 1150,200 1165,196 1180,193 1200,190 1215,188 1215,210 1200,212 1180,218 1165,226 1150,234 1137,242 1118.6,250 1118.6,225" fill="#ff7f0e" fill-opacity="0.18" stroke="#ff7f0e" stroke-opacity="0.18" stroke-width="1" clip-path="url(#ib1)"/>
<polygon points="1081.5,232 1096,225 1118.6,215 1118.6,245 1096,262 1081.5,275" fill="#a80d00" fill-opacity="0.18" stroke="#a80d00" stroke-opacity="0.18" stroke-width="1" clip-path="url(#ib1)"/>
<polygon points="1186,147 1210,147 1210,190 1186,195" fill="#2ca02c" fill-opacity="0.18" stroke="#2ca02c" stroke-opacity="0.18" stroke-width="1" clip-path="url(#ib1)"/>
<polygon points="1230,176 1238,176 1238,205 1230,205" fill="#2ca02c" fill-opacity="0.18" stroke="#2ca02c" stroke-opacity="0.18" stroke-width="1" clip-path="url(#ib1)"/>
<polygon points="1185,238 1200,232 1212,250 1222,266 1228,290 1232,318 1226,322 1212,318 1204,290 1196,270 1186,258" fill="#a80d00" fill-opacity="0.18" stroke="#a80d00" stroke-opacity="0.18" stroke-width="1" clip-path="url(#ib1)"/>
<polygon points="1213,225 1222,240 1228,290 1232,320 1228,320 1220,290 1213,250" fill="#1f77b4" fill-opacity="0.18" stroke="#1f77b4" stroke-opacity="0.18" stroke-width="1" clip-path="url(#ib1)"/>
<polyline points="1062.1,147.1 1066.9,236 1066.9,249.3 1068,236 1074,195 1078.8,180 1083.6,217.4 1084.8,218.6 1095.5,212.6 1097.9,235.2 1111,215 1113.3,225.7 1121.7,216.2 1121.7,225.7 1137.1,209 1139.5,216.2 1150,211.4 1157.1,206.7 1161.9,215 1173.8,207.9 1178.6,218.6 1184.5,223.3 1188.1,232.9 1190.5,238.6 1194,249.3 1197.6,254 1202.4,262.4 1204.8,274.3 1209.5,288.6 1216.7,285 1221.4,299.3 1228.6,306.4 1232.1,320.7 1233.3,340" fill="none" stroke="#a80d00" stroke-width="3.6" stroke-linejoin="round" stroke-linecap="square" clip-path="url(#ib1)"/>
<polyline points="1062.1,147.1 1067.5,236.4 1074,192.4 1078.8,178.1 1083.6,172.1 1088.3,167.4 1088.3,188.8 1113.3,168 1113.3,179.3 1116.9,176.9 1116.9,187.6 1133.6,178.1 1133.6,191.2 1137.1,194.8 1137.1,199.5 1150,192.4 1163.1,185.2 1167.9,193.6 1175,200 1182.1,206.7 1191.7,203.1 1197.6,210.2 1204.8,209 1211.9,218.6 1214.3,232.9 1214.3,242.1 1219,246.9 1221.4,264.8 1223.8,276.7 1226.2,296.9 1228.6,311.2 1231,320.7 1231.5,340" fill="none" stroke="#1f77b4" stroke-width="3.6" stroke-linejoin="round" stroke-linecap="square" clip-path="url(#ib1)"/>
<polyline points="1061,146.3 1183.9,146.3 1183.9,159.6 1185.7,160.8 1185.7,173.9 1210.1,169.2 1210.1,179.3 1227.4,176.9 1227.4,187.6 1235.7,185.2 1235.7,204.3 1238.1,204.9 1238.1,240 1239.9,270.7 1240.5,340" fill="none" stroke="#2ca02c" stroke-width="3.6" stroke-linejoin="round" stroke-linecap="square" clip-path="url(#ib1)"/>
<polyline points="1062.8,146.5 1063.8,340" fill="none" stroke="#ff7f0e" stroke-width="3.6" stroke-linejoin="round" stroke-linecap="square" clip-path="url(#ib1)"/>
<polyline points="1070.7,340 1072.5,290.8 1075.3,263 1079,244.6 1080.9,239.1 1081.8,312 1086.4,272.4 1092,253.9 1095.6,242.8 1096.7,287.4 1101.2,268.7 1110.4,246.5 1119.3,235 1126.4,225.7 1138.3,211.4 1139.5,230.5 1150,221 1175,203.1 1176.2,217.4 1200,204.9 1201.2,217.4 1231,204.3 1233.3,240 1234.5,270.7 1235.7,340" fill="none" stroke="#ff7f0e" stroke-width="3.6" stroke-linejoin="round" stroke-linecap="square" clip-path="url(#ib1)"/>
<polyline points="1061,146.3 1080.9,146.3 1080.9,235.4 1084.6,296.4 1094.7,250.2 1097.2,299.3 1111,254.6 1112.1,289.8 1118.1,273.1 1118.7,305.2 1136,267.7 1136,292.1 1150,267.1 1157.1,260 1158.3,277.9 1161.9,274.3 1161.9,289.8 1176.2,271.9 1176.8,285 1179.8,285 1181,313.6 1184.5,307.6 1184.5,320.7 1188.1,317.1 1189.3,326.7 1191.7,326.7 1191.7,340" fill="none" stroke="#f0306e" stroke-width="3.6" stroke-linejoin="round" stroke-linecap="square" clip-path="url(#ib1)"/>
<rect x="1057.3" y="142" width="191.3" height="191" fill="none" stroke="#555555" stroke-width="1.9"/>
<line x1="1061.6" y1="333" x2="1061.6" y2="346" stroke="#555555" stroke-width="1.6"/>
<text x="1061.6" y="380.3" font-size="27.78" text-anchor="middle" fill="#444444">0.0</text>
<line x1="1152.9" y1="333" x2="1152.9" y2="346" stroke="#555555" stroke-width="1.6"/>
<text x="1152.9" y="380.3" font-size="27.78" text-anchor="middle" fill="#444444">0.5</text>
<line x1="1244.2" y1="333" x2="1244.2" y2="346" stroke="#555555" stroke-width="1.6"/>
<text x="1244.2" y="380.3" font-size="27.78" text-anchor="middle" fill="#444444">1.0</text>
<line x1="1044.3" y1="146.6" x2="1057.3" y2="146.6" stroke="#555555" stroke-width="1.6"/>
<text x="1030.4" y="157.6" font-size="27.78" text-anchor="end" fill="#444444">1.0</text>
<line x1="1044.3" y1="238.4" x2="1057.3" y2="238.4" stroke="#555555" stroke-width="1.6"/>
<text x="1030.4" y="249.4" font-size="27.78" text-anchor="end" fill="#444444" textLength="59.75" lengthAdjust="spacingAndGlyphs">0.99</text>
<line x1="1044.3" y1="330.2" x2="1057.3" y2="330.2" stroke="#555555" stroke-width="1.6"/>
<text x="1030.4" y="341.2" font-size="27.78" text-anchor="end" fill="#444444" textLength="59.75" lengthAdjust="spacingAndGlyphs">0.98</text>
<rect x="1375.8" y="500.2" width="191.5" height="191.4" fill="#fff"/>
<polygon points="1377,512 1400,512 1440,513 1480,516 1505,522 1520,535 1537,555 1565,556 1565,564 1537,564 1520,560 1505,552 1480,530 1440,522 1400,520 1377,518" fill="#ff7f0e" fill-opacity="0.2" stroke="#ff7f0e" stroke-opacity="0.2" stroke-width="1" clip-path="url(#ib2)"/>
<polygon points="1534,529.7 1562.5,529.7 1562.5,540.8 1534,540.8" fill="#2ca02c" fill-opacity="0.2" stroke="#2ca02c" stroke-opacity="0.2" stroke-width="1" clip-path="url(#ib2)"/>
<polygon points="1455,524 1480,534 1505,545 1520,555 1536,565 1536,575 1520,568 1505,558 1480,545 1455,533" fill="#a80d00" fill-opacity="0.2" stroke="#a80d00" stroke-opacity="0.2" stroke-width="1" clip-path="url(#ib2)"/>
<polygon points="1520,548 1535,565 1545,590 1552,620 1548,620 1538,600 1530,575 1520,558" fill="#1f77b4" fill-opacity="0.2" stroke="#1f77b4" stroke-opacity="0.2" stroke-width="1" clip-path="url(#ib2)"/>
<polygon points="1441,527 1470,540 1473,552.6 1503,552.6 1503,579.6 1532,579.6 1533,611 1563,611 1563,626 1533,626 1533,610 1515,605 1500,598 1473,582 1467,581 1460,572 1441,540" fill="#f0306e" fill-opacity="0.2" stroke="#f0306e" stroke-opacity="0.2" stroke-width="1" clip-path="url(#ib2)"/>
<polyline points="1377.1,517 1397.4,518.2 1401,520 1453.3,525.7 1455.7,527.1 1465,530.4 1472.9,536.3 1504.3,548.7 1509.5,555.2 1530.5,563.1 1535.7,568.3 1536.4,571 1564.5,571" fill="none" stroke="#a80d00" stroke-width="3.6" stroke-linejoin="round" stroke-linecap="square" clip-path="url(#ib2)"/>
<polyline points="1377.1,517 1397.4,518.2 1401,520 1453.3,525.7 1465,528.4 1495.1,532.3 1504.3,536.9 1523.9,553.9 1530.5,565.7 1538.3,590 1551.4,618.2 1552.7,621.4 1564.5,621.4" fill="none" stroke="#1f77b4" stroke-width="3.6" stroke-linejoin="round" stroke-linecap="square" clip-path="url(#ib2)"/>
<polyline points="1377.1,509.9 1391.4,510.2 1393.8,513.5 1422.4,514 1426,516.4 1465,519.2 1477.4,519.9 1479.4,521.8 1505.6,523.2 1508.2,526.4 1534.4,527.1 1535.7,533.6 1564.5,534" fill="none" stroke="#2ca02c" stroke-width="3.6" stroke-linejoin="round" stroke-linecap="square" clip-path="url(#ib2)"/>
<polyline points="1377.1,513.8 1398.6,514 1401,517 1423.6,517 1426,519.4 1453.3,519.4 1455.7,524.8 1465,525.1 1506.9,529 1509.5,546.1 1535.7,554.6 1537,559.8 1564.5,559.8" fill="none" stroke="#ff7f0e" stroke-width="3.6" stroke-linejoin="round" stroke-linecap="square" clip-path="url(#ib2)"/>
<polyline points="1377.1,523.3 1410.5,525.4 1414,527.1 1441.4,527.1 1445,530.7 1465,543.5 1471.5,547.4 1473.5,565.1 1502.3,571 1503.6,593.2 1531.8,596.5 1533.1,618.2 1564.5,618.2" fill="none" stroke="#f0306e" stroke-width="3.6" stroke-linejoin="round" stroke-linecap="square" clip-path="url(#ib2)"/>
<rect x="1375.8" y="500.2" width="191.5" height="191.4" fill="none" stroke="#555555" stroke-width="1.9"/>
<line x1="1380" y1="691.6" x2="1380" y2="704.6" stroke="#555555" stroke-width="1.6"/>
<text x="1380" y="738.9" font-size="27.78" text-anchor="middle" fill="#444444" textLength="59.75" lengthAdjust="spacingAndGlyphs">0.98</text>
<line x1="1472" y1="691.6" x2="1472" y2="704.6" stroke="#555555" stroke-width="1.6"/>
<text x="1472" y="738.9" font-size="27.78" text-anchor="middle" fill="#444444" textLength="59.75" lengthAdjust="spacingAndGlyphs">0.99</text>
<line x1="1563.3" y1="691.6" x2="1563.3" y2="704.6" stroke="#555555" stroke-width="1.6"/>
<text x="1563.3" y="738.9" font-size="27.78" text-anchor="middle" fill="#444444">1.0</text>
<line x1="1362.8" y1="504.6" x2="1375.8" y2="504.6" stroke="#555555" stroke-width="1.6"/>
<text x="1348.7" y="515.6" font-size="27.78" text-anchor="end" fill="#444444">1.0</text>
<line x1="1362.8" y1="596.2" x2="1375.8" y2="596.2" stroke="#555555" stroke-width="1.6"/>
<text x="1348.7" y="607.2" font-size="27.78" text-anchor="end" fill="#444444">0.5</text>
<line x1="1362.8" y1="687.6" x2="1375.8" y2="687.6" stroke="#555555" stroke-width="1.6"/>
<text x="1348.7" y="698.6" font-size="27.78" text-anchor="end" fill="#444444">0.0</text>
<line x1="128.6" y1="741.7" x2="199.55" y2="700.26" stroke="#666666" stroke-width="2"/>
<polygon points="212.5,692.7 201.85,708.18 193.79,694.37" fill="#666666"/>
<line x1="798.3" y1="70.7" x2="771.81" y2="127.89" stroke="#666666" stroke-width="2"/>
<polygon points="765.5,141.5 765.39,122.71 779.9,129.44" fill="#666666"/>
<line x1="1003" y1="71" x2="1051.41" y2="129.26" stroke="#666666" stroke-width="2"/>
<polygon points="1061,140.8 1043.98,132.84 1056.29,122.61" fill="#666666"/>
<line x1="1617.9" y1="741.3" x2="1578.52" y2="702.79" stroke="#666666" stroke-width="2"/>
<polygon points="1567.8,692.3 1585.55,698.47 1574.36,709.91" fill="#666666"/>
<line x1="486.3" y1="513.5" x2="543.4" y2="513.5" stroke="#a80d00" stroke-width="4.2"/>
<line x1="486.3" y1="552.4" x2="543.4" y2="552.4" stroke="#1f77b4" stroke-width="4.2"/>
<line x1="486.3" y1="591.4" x2="543.4" y2="591.4" stroke="#2ca02c" stroke-width="4.2"/>
<line x1="486.3" y1="630.6" x2="543.4" y2="630.6" stroke="#ff7f0e" stroke-width="4.2"/>
<line x1="486.3" y1="670" x2="543.4" y2="670" stroke="#f0306e" stroke-width="4.2"/>
<line x1="486.3" y1="709.3" x2="543.4" y2="709.3" stroke="#e5e5e5" stroke-width="4.2"/>
<text x="562.58" y="522.5" font-size="27" textLength="216.94" lengthAdjust="spacingAndGlyphs">Macro-averaged</text>
<text x="561.78" y="561.8" font-size="27" textLength="208.65" lengthAdjust="spacingAndGlyphs">Micro-averaged</text>
<text x="562.63" y="600.9" font-size="27" textLength="104.24" lengthAdjust="spacingAndGlyphs">SW-480</text>
<text x="562.91" y="640" font-size="27" textLength="62.51" lengthAdjust="spacingAndGlyphs">OT-II</text>
<text x="561.75" y="679.3" font-size="27" textLength="75.23" lengthAdjust="spacingAndGlyphs">Blank</text>
<text x="561.75" y="718.5" font-size="27" textLength="122.91" lengthAdjust="spacingAndGlyphs">Iso-BACC</text>
<line x1="964.1" y1="508.4" x2="1021.3" y2="508.4" stroke="#a80d00" stroke-width="4.2"/>
<line x1="964.1" y1="547.2" x2="1021.3" y2="547.2" stroke="#1f77b4" stroke-width="4.2"/>
<line x1="964.1" y1="586.1" x2="1021.3" y2="586.1" stroke="#2ca02c" stroke-width="4.2"/>
<line x1="964.1" y1="625.3" x2="1021.3" y2="625.3" stroke="#ff7f0e" stroke-width="4.2"/>
<line x1="964.1" y1="664.3" x2="1021.3" y2="664.3" stroke="#f0306e" stroke-width="4.2"/>
<line x1="964.1" y1="707" x2="1021.3" y2="707" stroke="#e5e5e5" stroke-width="4.2"/>
<text x="1039.36" y="518" font-size="27" textLength="219.09" lengthAdjust="spacingAndGlyphs">Macro-averaged</text>
<text x="1038.75" y="557" font-size="27" textLength="210.5" lengthAdjust="spacingAndGlyphs">Micro-averaged</text>
<text x="1039.62" y="595.9" font-size="27" textLength="104.86" lengthAdjust="spacingAndGlyphs">SW-480</text>
<text x="1039.84" y="635" font-size="27" textLength="65.08" lengthAdjust="spacingAndGlyphs">OT-II</text>
<text x="1038.72" y="674.1" font-size="27" textLength="76.06" lengthAdjust="spacingAndGlyphs">Blank</text>
<text x="1040.4" y="712.6" font-size="27" textLength="170.5" lengthAdjust="spacingAndGlyphs">Iso-F<tspan font-size="18.9" dy="4.1">1</tspan><tspan dy="-4.1"> curves</tspan></text>
<text x="365.07" y="834.3" font-size="27.78" textLength="181.23" lengthAdjust="spacingAndGlyphs">1 - Specificity</text>
<text x="1248.26" y="834.2" font-size="27.78" textLength="81.57" lengthAdjust="spacingAndGlyphs">Recall</text>
<text transform="translate(20.3 468.45) rotate(-90)" font-size="27.78" textLength="137.83" lengthAdjust="spacingAndGlyphs">Sensitivity</text>
<text transform="translate(853.3 459.76) rotate(-90)" font-size="27.78" textLength="122.07" lengthAdjust="spacingAndGlyphs">Precision</text>
<text x="12" y="23.8" font-size="32" font-weight="bold">(a)</text>
<text x="844.5" y="23.8" font-size="32" font-weight="bold">(b)</text>
</svg>
</body></html>
